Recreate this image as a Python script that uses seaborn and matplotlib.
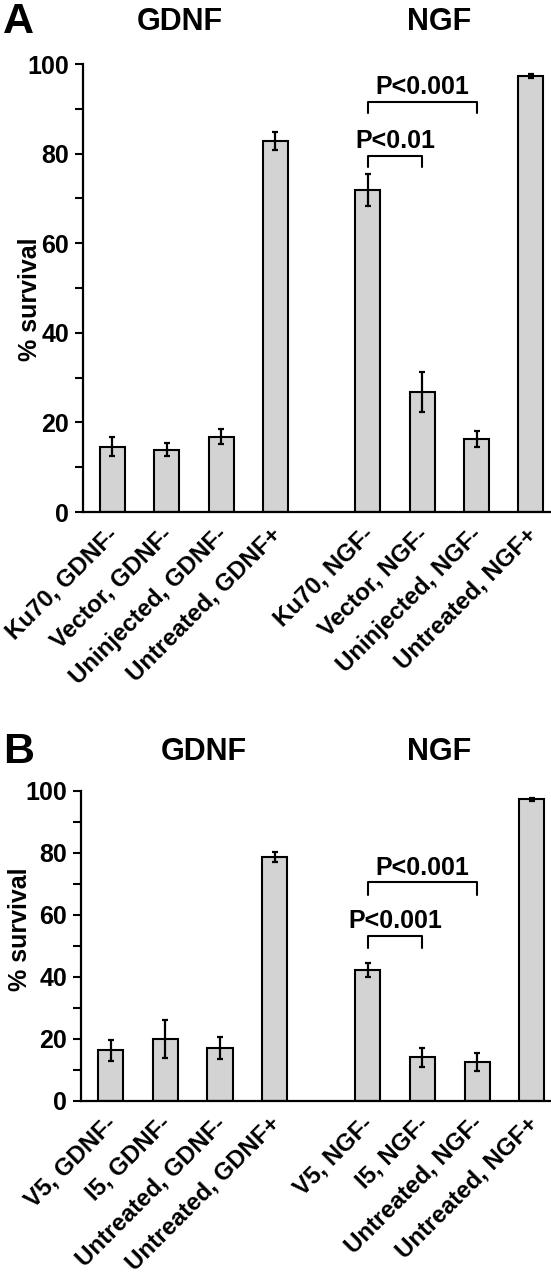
import numpy as np
import pandas as pd
import seaborn as sns
import matplotlib.pyplot as plt
import matplotlib.transforms as mtransforms
from matplotlib.ticker import MultipleLocator

sns.set_style("white")
plt.rcParams['font.family'] = ['Liberation Sans', 'DejaVu Sans']
plt.rcParams['font.weight'] = 'bold'
plt.rcParams['text.color'] = 'black'
plt.rcParams['axes.labelcolor'] = 'black'
plt.rcParams['xtick.color'] = 'black'
plt.rcParams['ytick.color'] = 'black'

# panel A data
labels_a = ["Ku70, GDNF-", "Vector, GDNF-", "Uninjected, GDNF-", "Untreated, GDNF+",
            "Ku70, NGF-", "Vector, NGF-", "Uninjected, NGF-", "Untreated, NGF+"]
survival_a = [14.6, 13.9, 16.8, 82.9, 71.9, 26.8, 16.3, 97.3]
err_a = [2.1, 1.4, 1.7, 2.0, 3.6, 4.5, 1.7, 0.4]
# (bar i, bar j, bracket height, text)
pvals_a = [(4, 5, 79.5, "P<0.01"), (4, 6, 91.5, "P<0.001")]

# panel B data
labels_b = ["V5, GDNF-", "I5, GDNF-", "Untreated, GDNF-", "Untreated, GDNF+",
            "V5, NGF-", "I5, NGF-", "Untreated, NGF-", "Untreated, NGF+"]
survival_b = [16.4, 20.0, 17.0, 78.7, 42.3, 14.1, 12.6, 97.3]
err_b = [3.4, 6.2, 3.5, 1.5, 2.2, 3.0, 2.9, 0.5]
pvals_b = [(4, 5, 53.3, "P<0.001"), (4, 6, 70.5, "P<0.001")]

group_gap = 4.7
xpos = np.r_[np.arange(4), np.arange(4) + group_gap]

fig = plt.figure(figsize=(5.51, 12.8), dpi=100)
ax_a = fig.add_axes([83/551, 1-512/1280, 467/551, 448/1280])
ax_b = fig.add_axes([81/551, 1-1101/1280, 470/551, 310/1280])


def draw_panel(ax, labels, vals, errs, pvals, leg, ylab_xy):
    df = pd.DataFrame({"x": xpos, "survival": vals})
    sns.barplot(data=df, x="x", y="survival", native_scale=True, width=0.46,
                color="#d3d3d3", saturation=1, edgecolor="black", linewidth=1.5,
                errorbar=None, ax=ax)
    ax.errorbar(xpos, vals, yerr=errs, fmt='none', ecolor='black',
                elinewidth=1.6, capsize=2.3, capthick=1.6)
    ax.set_xlim(-0.54, 8.05)
    ax.set_ylim(0, 100)
    ax.yaxis.set_major_locator(MultipleLocator(20))
    ax.yaxis.set_minor_locator(MultipleLocator(10))
    ax.tick_params(axis='y', which='both', direction='out', length=6, width=1.5,
                   left=True, labelsize=18, pad=4, colors='black')
    ax.tick_params(axis='x', length=0, pad=17)
    ax.set_xticks(xpos)
    ax.set_xticklabels(labels, rotation=45, ha='right', va='baseline',
                       rotation_mode='anchor', fontsize=17.3, fontweight='bold',
                       color='black')
    shift = mtransforms.ScaledTranslation(5/72, 0, fig.dpi_scale_trans)
    for t in ax.get_xticklabels():
        t.set_transform(t.get_transform() + shift)
    for t in ax.get_yticklabels():
        t.set_fontweight('bold')
    ax.set_xlabel("")
    ax.set_ylabel("% survival", fontsize=18, fontweight='bold', color='black')
    ax.yaxis.set_label_coords(*ylab_xy)
    sns.despine(ax=ax)
    for s in ["left", "bottom"]:
        ax.spines[s].set_linewidth(1.6)
        ax.spines[s].set_color("black")
    for i, j, h, txt in pvals:
        x1, x2 = xpos[i], xpos[j]
        ax.plot([x1, x1, x2, x2], [h - leg, h, h, h - leg], color='black', lw=1.5)
        ax.annotate(txt, xy=((x1 + x2) / 2, h), xytext=(0, 2), textcoords='offset points',
                    ha='center', va='bottom', fontsize=18, fontweight='bold', color='black')


draw_panel(ax_a, labels_a, survival_a, err_a, pvals_a, 2.5, (-0.088, 0.475))
draw_panel(ax_b, labels_b, survival_b, err_b, pvals_b, 4.0, (-0.104, 0.555))

fig.text(3/551, 1-22/1280, "A", fontsize=31, fontweight='bold', ha='left', va='center')
fig.text(180/551, 1-22/1280, "GDNF", fontsize=22, fontweight='bold', ha='center', va='center')
fig.text(439/551, 1-22/1280, "NGF", fontsize=22, fontweight='bold', ha='center', va='center')
fig.text(3/551, 1-752/1280, "B", fontsize=31, fontweight='bold', ha='left', va='center')
fig.text(204/551, 1-752/1280, "GDNF", fontsize=22, fontweight='bold', ha='center', va='center')
fig.text(439/551, 1-752/1280, "NGF", fontsize=22, fontweight='bold', ha='center', va='center')

fig.savefig("out.png", dpi=100)
